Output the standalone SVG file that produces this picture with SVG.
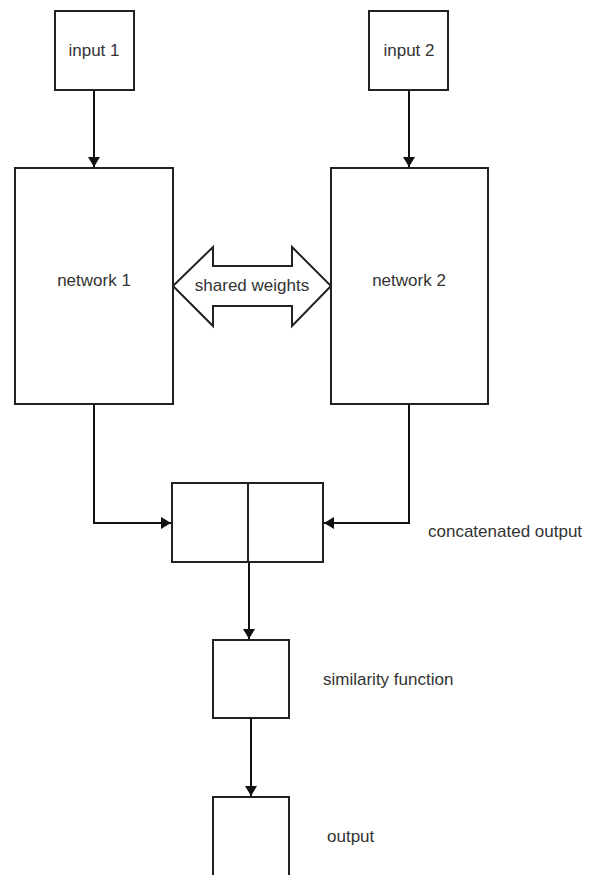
<svg xmlns="http://www.w3.org/2000/svg" width="592" height="875" viewBox="0 0 592 875">
<style>
.box{fill:#fff;stroke:#222;stroke-width:2}
.lbl{font-family:"Liberation Sans",Arial,sans-serif;font-size:17px;fill:#333}
.c{text-anchor:middle}
.conn{fill:none;stroke:#111;stroke-width:2}
</style>
<defs>
<marker id="ah" viewBox="0 0 10 12" refX="10" refY="6" markerWidth="10" markerHeight="12" markerUnits="userSpaceOnUse" orient="auto">
<path d="M0,0 L10,6 L0,12 Z" fill="#111"/>
</marker>
</defs>
<rect width="592" height="875" fill="#fff"/>
<g id="input1"><rect class="box" x="55" y="11" width="79" height="79"/><text class="lbl c" x="94" y="56">input 1</text></g>
<g id="input2"><rect class="box" x="369" y="11" width="79" height="79"/><text class="lbl c" x="409" y="56">input 2</text></g>
<g id="network1"><rect class="box" x="15" y="168" width="158" height="236"/><text class="lbl c" x="94" y="286">network 1</text></g>
<g id="network2"><rect class="box" x="331" y="168" width="157" height="236"/><text class="lbl c" x="409" y="286">network 2</text></g>
<g id="shared"><path class="box" d="M173,286 L213,247 L213,266 L292,266 L292,247 L331,286 L292,326 L292,306 L213,306 L213,326 Z"/><text class="lbl c" x="252" y="291">shared weights</text></g>
<g id="concat"><rect class="box" x="172" y="483" width="151" height="79"/><line x1="248" y1="483" x2="248" y2="562" stroke="#222" stroke-width="2"/><text class="lbl" x="428" y="537">concatenated output</text></g>
<g id="similarity"><rect class="box" x="213" y="640" width="76" height="78"/><text class="lbl" x="323" y="685">similarity function</text></g>
<g id="output"><rect class="box" x="213" y="797" width="76" height="80"/><text class="lbl" x="327" y="842">output</text></g>
<g id="connectors">
<path class="conn" d="M94,90 L94,167" marker-end="url(#ah)"/>
<path class="conn" d="M409,90 L409,167" marker-end="url(#ah)"/>
<path class="conn" d="M94,404 L94,523 L171,523" marker-end="url(#ah)"/>
<path class="conn" d="M409,404 L409,523 L324,523" marker-end="url(#ah)"/>
<path class="conn" d="M249,562 L249,639" marker-end="url(#ah)"/>
<path class="conn" d="M251,718 L251,796" marker-end="url(#ah)"/>
</g>
</svg>
